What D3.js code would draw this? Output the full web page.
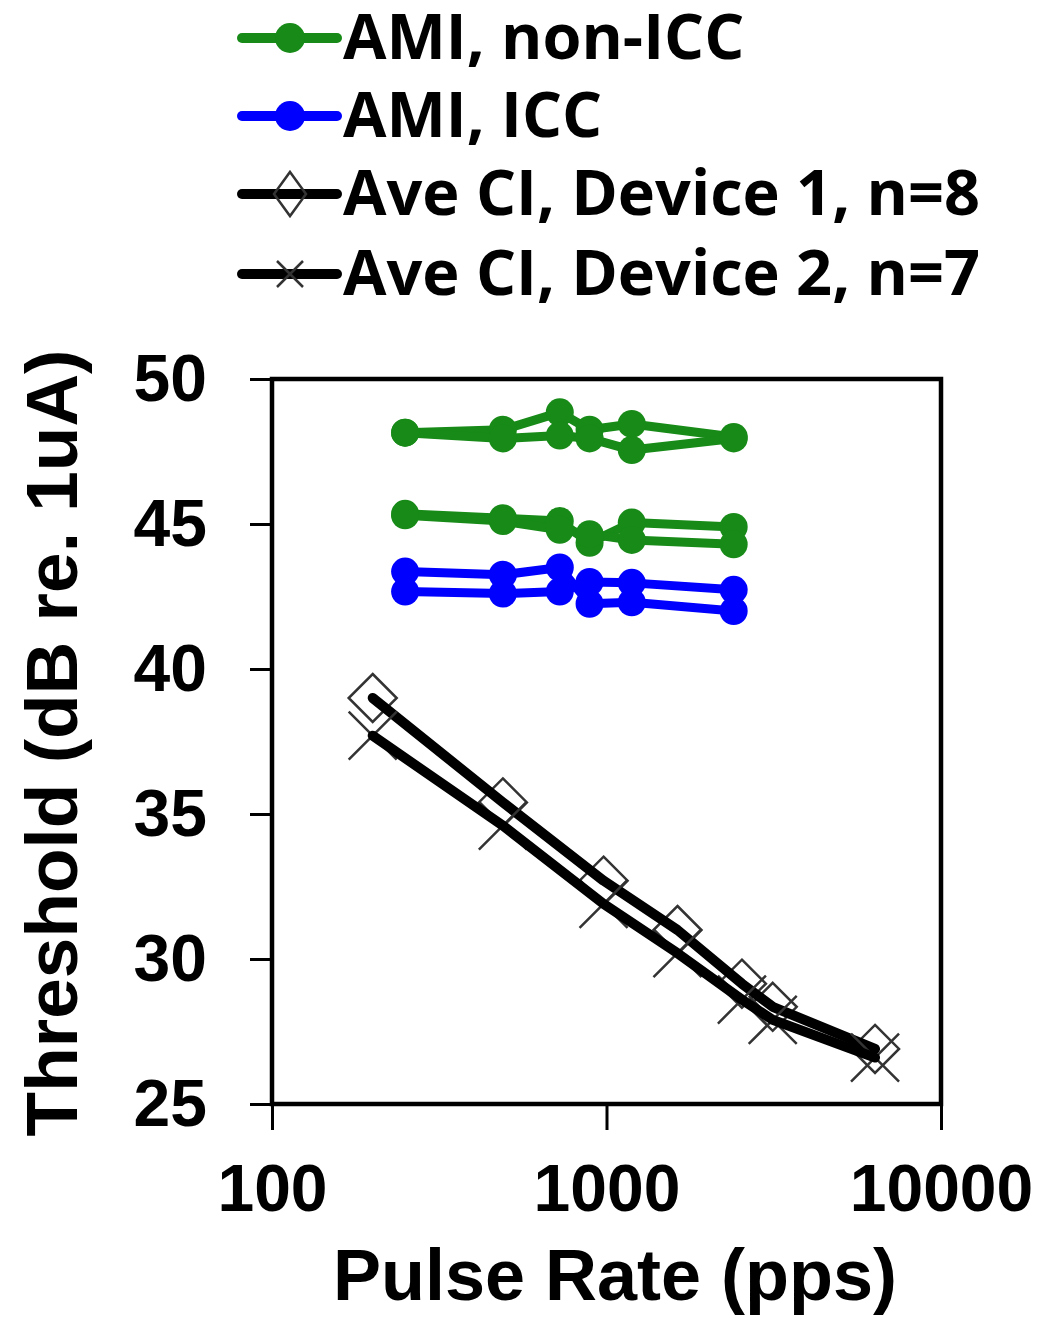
<!DOCTYPE html>
<html>
<head>
<meta charset="utf-8">
<script src="https://cdn.jsdelivr.net/npm/d3@7"></script>
<style>
  body { margin: 0; background: #fff; }
  svg { display: block; }
</style>
</head>
<body>
<svg width="1049" height="1336"></svg>
<script>
  // pulse rates (pps) and thresholds (dB re. 1uA)
  const amiRates = [250, 490, 725, 890, 1190, 2400];
  const amiNonIcc = [
    [48.15, 48.25, 48.85, 48.25, 48.45, 48.0],
    [48.15, 47.95, 48.05, 47.95, 47.55, 47.95],
    [45.35, 45.2, 45.1, 44.35, 45.05, 44.9],
    [45.3, 45.1, 44.8, 44.65, 44.45, 44.3]
  ];
  const amiIcc = [
    [43.36, 43.25, 43.5, 42.25, 42.3, 42.0],
    [42.67, 42.6, 42.67, 43.0, 42.97, 42.73]
  ];
  const ciRates = [200, 490, 980, 1630, 2540, 3140, 6350];
  const device1 = [39.0, 35.4, 32.7, 31.0, 29.15, 28.35, 26.9];
  const device2 = [37.7, 34.6, 31.9, 30.2, 28.6, 27.9, 26.6];

  const xTicks = [100, 1000, 10000];
  const yTicks = [25, 30, 35, 40, 45, 50];
  const legendLabels = ['AMI, non-ICC', 'AMI, ICC', 'Ave CI, Device 1, n=8', 'Ave CI, Device 2, n=7'];

  const green = '#178a17';
  const blue = '#0000ff';
  const axisFont = '"Liberation Sans", Arial, sans-serif';

  const svg = d3.select('svg');
  const margin = { top: 379, right: 108, bottom: 232, left: 272 };
  const width = +svg.attr('width');
  const height = +svg.attr('height');
  const innerWidth = width - margin.left - margin.right;
  const innerHeight = height - margin.top - margin.bottom;

  const xScale = d3.scaleLog().domain([100, 10000]).range([0, innerWidth]);
  const yScale = d3.scaleLinear().domain([25, 50]).range([innerHeight, 0]);

  const g = svg.append('g')
    .attr('transform', `translate(${margin.left},${margin.top})`);

  // axes
  const yAxisG = g.append('g')
    .call(d3.axisLeft(yScale).tickValues(yTicks).tickSizeInner(22).tickSizeOuter(0).tickPadding(43));
  const xAxisG = g.append('g')
    .attr('transform', `translate(0,${innerHeight})`)
    .call(d3.axisBottom(xScale).tickValues(xTicks).tickFormat(d3.format('d'))
      .tickSizeInner(26).tickSizeOuter(0).tickPadding(34));
  [yAxisG, xAxisG].forEach(a => {
    a.attr('font-family', axisFont).attr('font-size', 66).attr('font-weight', 'bold');
    a.select('.domain').remove();
    a.selectAll('.tick line').attr('stroke', '#000').attr('stroke-width', 3);
    a.selectAll('.tick text').attr('fill', '#000');
  });

  g.append('rect')
    .attr('width', innerWidth)
    .attr('height', innerHeight)
    .attr('fill', 'none')
    .attr('stroke', '#000')
    .attr('stroke-width', 4.5);

  const line = d3.line()
    .x(d => xScale(d[0]))
    .y(d => yScale(d[1]));

  const drawDots = (rates, values, color) => {
    const pts = rates.map((r, i) => [r, values[i]]);
    g.append('path')
      .attr('d', line(pts))
      .attr('fill', 'none')
      .attr('stroke', color)
      .attr('stroke-width', 9)
      .attr('stroke-linejoin', 'round');
    g.append('g').selectAll('circle')
      .data(pts)
      .join('circle')
      .attr('cx', d => xScale(d[0]))
      .attr('cy', d => yScale(d[1]))
      .attr('r', 14)
      .attr('fill', color);
  };

  amiNonIcc.forEach(s => drawDots(amiRates, s, green));
  amiIcc.forEach(s => drawDots(amiRates, s, blue));

  const diamond = s => `M0,${-s}L${s},0L0,${s}L${-s},0Z`;
  const cross = s => `M${-s},${-s}L${s},${s}M${-s},${s}L${s},${-s}`;

  const drawCi = (values, shape) => {
    const pts = ciRates.map((r, i) => [r, values[i]]);
    g.append('g').selectAll('path')
      .data(pts)
      .join('path')
      .attr('transform', d => `translate(${xScale(d[0])},${yScale(d[1])})`)
      .attr('d', shape)
      .attr('fill', 'none')
      .attr('stroke', '#333')
      .attr('stroke-width', 2.5);
    g.append('path')
      .attr('d', line(pts))
      .attr('fill', 'none')
      .attr('stroke', '#000')
      .attr('stroke-width', 10)
      .attr('stroke-linecap', 'round')
      .attr('stroke-linejoin', 'round');
  };

  drawCi(device1, diamond(24));
  drawCi(device2, cross(24));

  // axis titles
  g.append('text')
    .attr('x', 343)
    .attr('y', 1300 - margin.top)
    .attr('text-anchor', 'middle')
    .attr('font-family', axisFont)
    .attr('font-size', 72)
    .attr('font-weight', 'bold')
    .text('Pulse Rate (pps)');

  svg.append('text')
    .attr('transform', 'rotate(-90)')
    .attr('x', -743)
    .attr('y', 77)
    .attr('text-anchor', 'middle')
    .attr('font-family', axisFont)
    .attr('font-size', 73)
    .attr('font-weight', 'bold')
    .text('Threshold (dB re. 1uA)');

  // legend
  const legendG = svg.append('g').attr('transform', 'translate(242,0)');
  const rowY = [38, 116, 194, 274];
  const legendColors = [green, blue, '#000', '#000'];
  legendLabels.forEach((label, i) => {
    const row = legendG.append('g').attr('transform', `translate(0,${rowY[i]})`);
    row.append('line')
      .attr('x1', 0).attr('x2', 95)
      .attr('stroke', legendColors[i])
      .attr('stroke-width', 10)
      .attr('stroke-linecap', 'round');
    if (i < 2) {
      row.append('circle').attr('cx', 48).attr('r', 15).attr('fill', legendColors[i]);
    } else {
      row.append('path')
        .attr('transform', 'translate(48,0)')
        .attr('d', i === 2 ? 'M0,-22L16,0L0,22L-16,0Z' : cross(13))
        .attr('fill', 'none')
        .attr('stroke', '#333')
        .attr('stroke-width', 2.5);
    }
    row.append('text')
      .attr('x', 101)
      .attr('y', 21)
      .attr('font-family', '"Open Sans", Lato, sans-serif')
      .attr('font-size', 63)
      .attr('font-weight', 'bold')
      .attr('fill', '#000')
      .text(label);
  });
</script>
</body>
</html>
